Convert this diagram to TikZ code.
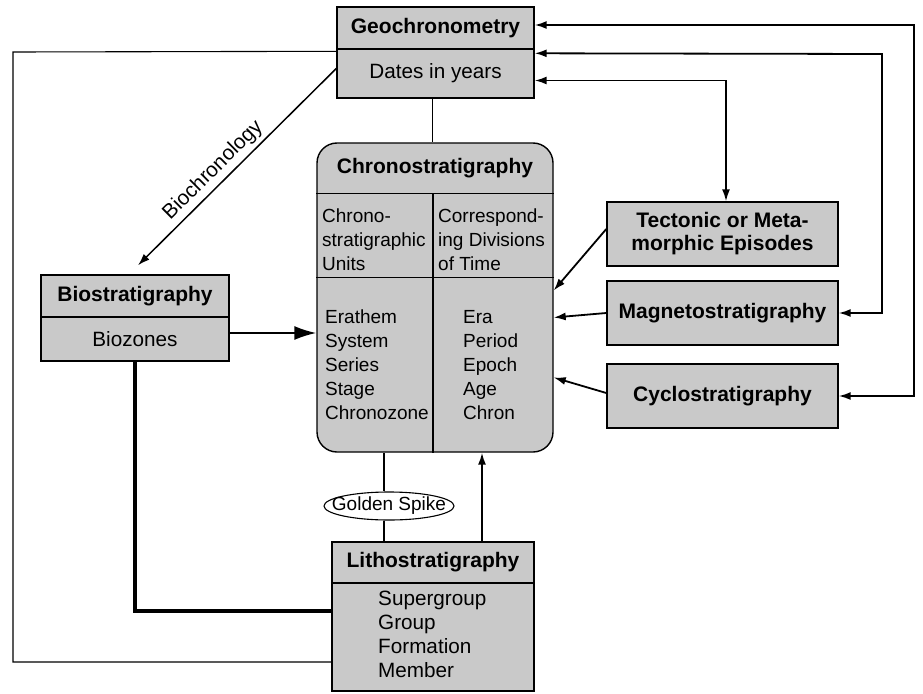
\documentclass[tikz,border=0pt]{standalone}
\usepackage{fontspec}
\setmainfont{Liberation Sans}
\usetikzlibrary{shapes.geometric,arrows.meta}
\definecolor{boxfill}{gray}{0.79}
\newcommand{\titlefnt}{\fontsize{21}{23}\selectfont\bfseries}
\newcommand{\smallfnt}{\fontsize{19}{24}\selectfont}
\begin{document}
\begin{tikzpicture}[x=1pt,y=-1pt,
  every node/.style={font=\fontsize{20.7}{24}\selectfont},
  box/.style={draw,line width=1.4pt,fill=boxfill,inner sep=0pt},
  txt/.style={anchor=west,align=left,inner sep=0pt},
  ctxt/.style={txt,font=\smallfnt},
  thinline/.style={line width=1.1pt},
  arr/.style={line width=1.8pt,-{Latex[length=12pt,width=8pt]}},
  arrS/.style={line width=1.5pt,{Latex[length=12pt,width=8pt]}-},
  dbl/.style={line width=1.8pt,{Latex[length=12pt,width=8pt]}-{Latex[length=12pt,width=8pt]}},
  bigarr/.style={line width=1.8pt,-{Latex[length=22pt,width=14pt]}}]
\useasboundingbox (0,0) rectangle (923,693);

% Geochronometry
\node[box,minimum width=197pt,minimum height=42pt,font=\titlefnt] (geoT) at (435.5,28) {Geochronometry};
\node[box,minimum width=197pt,minimum height=49pt] (geoB) at (435.5,73.5) {Dates in years};

% Chronostratigraphy
\node[box,rounded corners=20pt,minimum width=236pt,minimum height=309pt] (chrono) at (435,297.5) {};
\draw[line width=1.4pt] ([yshift=-51pt]chrono.north west) -- ([yshift=-51pt]chrono.north east);
\draw[line width=1.4pt] ([yshift=-135pt]chrono.north west) -- ([yshift=-135pt]chrono.north east);
\draw[line width=1.4pt] ([xshift=-2pt,yshift=-51pt]chrono.north) -- ([xshift=-2pt]chrono.south);
\node[font=\titlefnt] (chronoT) at (435,168) {Chronostratigraphy};
\node[ctxt] (hdL) at (322,240) {Chrono-\\stratigraphic\\Units};
\node[ctxt] (hdR) at (438,240) {Correspond-\\ing Divisions\\of Time};
\node[ctxt] (listL) at (325,365) {Erathem\\System\\Series\\Stage\\Chronozone};
\node[ctxt] (listR) at (463,365) {Era\\Period\\Epoch\\Age\\Chron};

% Biostratigraphy
\node[box,minimum width=188pt,minimum height=42pt,font=\titlefnt] (bioT) at (135,296) {Biostratigraphy};
\node[box,minimum width=188pt,minimum height=44pt] (bioB) at (135,339) {Biozones};

% Lithostratigraphy
\node[box,minimum width=202pt,minimum height=41pt,font=\titlefnt] (lithoT) at (433,562.5) {Lithostratigraphy};
\node[box,minimum width=202pt,minimum height=108pt] (lithoB) at (433,637) {};
\node[txt] (lithoL) at (378,634) {Supergroup\\Group\\Formation\\Member};

% Right boxes
\node[box,minimum width=231pt,minimum height=64pt,font=\titlefnt,align=center] (tect) at (722.5,234) {Tectonic or Meta-\\morphic Episodes};
\node[box,minimum width=231pt,minimum height=64pt,font=\titlefnt] (magneto) at (722.5,313) {Magnetostratigraphy};
\node[box,minimum width=231pt,minimum height=64pt,font=\titlefnt] (cyclo) at (722.5,396) {Cyclostratigraphy};

% Golden spike
\node[draw,ellipse,line width=1.1pt,fill=white,minimum width=130pt,minimum height=28pt,inner sep=0pt] (spike) at (389,506) {};
\node[inner sep=0pt,font=\smallfnt] (spikeT) at (spike.center) {Golden Spike};

% Connectors
\draw[thinline] ([xshift=-3pt]geoB.south) -- ([xshift=-3pt]geoB.south |- chrono.north);
\draw[arrS] ([xshift=3pt,yshift=9pt]bioT.north) -- node[sloped,above,pos=0.43,inner sep=4pt] {Biochronology} ([yshift=5pt]geoB.west);

\coordinate (r1) at (914,25);
\coordinate (r2) at (882,54);
\draw[dbl] ([yshift=3pt]geoT.east) -- (r1) |- (cyclo.east);
\draw[dbl] ([yshift=-5pt]geoB.north east) -- (r2) |- (magneto.east);
\draw[dbl] ([yshift=-7pt]geoB.east) -| ([xshift=3.5pt]tect.north);

\draw[arr] ([yshift=5pt]tect.west) -- ([yshift=7pt]chrono.east);
\draw[arr] (magneto.west) -- ([yshift=-20pt]chrono.east);
\draw[arr] ([yshift=3pt]cyclo.west) -- ([yshift=-80pt]chrono.east);

\coordinate (bz) at ([yshift=6pt]bioB.east);
\draw[bigarr] (bz) -- (bz -| chrono.west);

\draw[thinline] ([xshift=-5pt]spike.north) -- ([xshift=-5pt]spike.north |- chrono.south);
\draw[thinline] ([xshift=-5pt]spike.south) -- ([xshift=-5pt]spike.south |- lithoT.north);

\coordinate (lu) at ([xshift=49pt]lithoT.north);
\draw[arr] (lu) -- (lu |- chrono.south);

\draw[line width=4pt] (bioB.south) |- ([yshift=26.5pt]lithoB.west);

\coordinate (lc) at (13,52);
\draw[thinline] ([yshift=-3pt]geoB.north west) -- (lc) |- ([yshift=-25pt]lithoB.west);
\end{tikzpicture}
\end{document}
